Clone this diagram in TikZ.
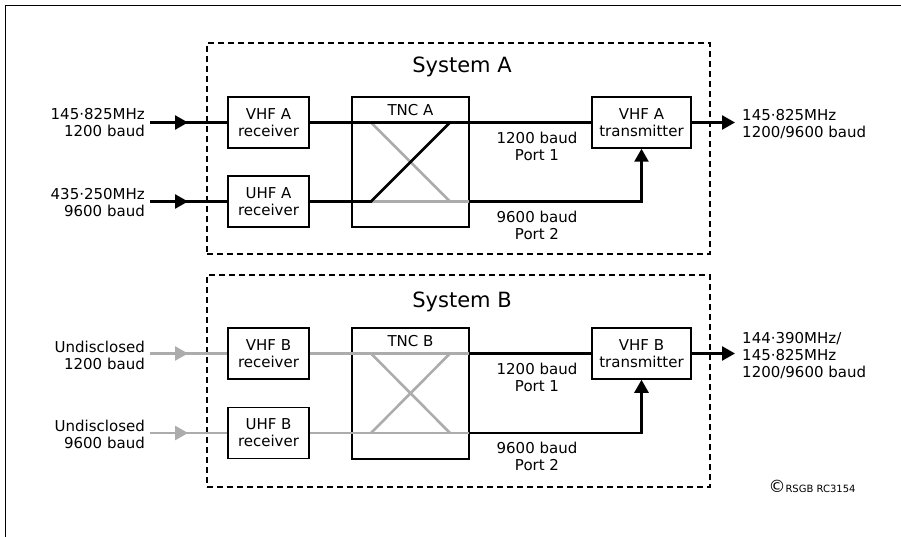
\documentclass[tikz,border=0pt]{standalone}
\usepackage{fontspec}
\setmainfont{DejaVu Sans}
\usetikzlibrary{arrows.meta}
\definecolor{siggray}{RGB}{172,172,172}
\begin{document}
\begin{tikzpicture}[x=1pt,y=-1pt,
  box/.style={draw=black,line width=1.5pt,fill=none,minimum height=51pt,inner sep=0pt,align=center,font=\fontsize{15}{17}\selectfont},
  rx/.style={box,minimum width=81pt},
  tx/.style={box,minimum width=99pt},
  tnc/.style={draw=black,line width=1.5pt,minimum width=117pt,inner sep=0pt},
  sysbox/.style={draw=black,line width=1.6pt,dash pattern=on 6pt off 4pt,minimum width=503pt,inner sep=0pt},
  sig/.style={line width=2.6pt,draw=black},
  gsig/.style={line width=2.6pt,draw=siggray},
  tip/.style={-{Triangle[length=13pt,width=14pt]}},
  lbl/.style={font=\fontsize{15}{17}\selectfont,inner sep=0pt,align=center},
  title/.style={font=\fontsize{21}{24}\selectfont,inner sep=0pt},
]
\useasboundingbox (0,0) rectangle (901,537);
% frame
\draw[line width=1.8pt] (5.5,537) -- (5.5,5.5) -- (901,5.5);

% ---------- System A ----------
\node[sysbox,minimum height=211pt] (sysA) at (458.5,148.5) {};
\node[title] (tA) at (462,67) {System A};
\node[rx] (vhfA) at (268.5,122.5) {VHF A\\receiver};
\node[rx] (uhfA) at (268.5,201.5) {UHF A\\receiver};
\node[tnc,minimum height=130pt] (tncA) at (410.5,162) {};
\node[lbl] (tncAl) at (410.5,110) {TNC A};
\node[tx] (txA) at (641.5,122.5) {VHF A\\transmitter};

\coordinate (a1) at (371,122.5);
\coordinate (a2) at (450,122.5);
\coordinate (a3) at (371,201.5);
\coordinate (a4) at (450,201.5);
\coordinate (a5) at (469,201.5);
\coordinate (inA1) at (150,122.5);
\coordinate (inA2) at (150,201.5);
\coordinate (tipA1) at (188,122.5);
\coordinate (tipA2) at (188,201.5);
\coordinate (outA) at (735,122.5);

\draw[gsig] (a1) -- (a4);
\draw[gsig] (a3) -- (a5);
\draw[sig] (vhfA.east) -- (txA.west);
\draw[sig] (uhfA.east) -- (a3) -- (a2);
\draw[sig,tip] (a5) -| (txA.south);
\draw[sig] (inA1) -- (vhfA.west);
\draw[sig,tip] (inA1) -- (tipA1);
\draw[sig] (inA2) -- (uhfA.west);
\draw[sig,tip] (inA2) -- (tipA2);
\draw[sig,tip] (txA.east) -- (outA);

\node[lbl,anchor=east,align=right] (lA1) at (145,123) {145·825MHz\\1200 baud};
\node[lbl,anchor=east,align=right] (lA2) at (145,203) {435·250MHz\\9600 baud};
\node[lbl] (pA1) at (537,146) {1200 baud\\Port 1};
\node[lbl] (pA2) at (537,225) {9600 baud\\Port 2};
\node[lbl,anchor=west,align=left] (oA) at (742,124) {145·825MHz\\1200/9600 baud};

% ---------- System B ----------
\node[sysbox,minimum height=212pt] (sysB) at (458.5,381) {};
\node[title] (tB) at (462,302) {System B};
\node[rx] (vhfB) at (268.5,353.5) {VHF B\\receiver};
\node[rx] (uhfB) at (268.5,433) {UHF B\\receiver};
\node[tnc,minimum height=131pt] (tncB) at (410.5,393.5) {};
\node[lbl] (tncBl) at (410.5,341) {TNC B};
\node[tx] (txB) at (641.5,353.5) {VHF B\\transmitter};

\coordinate (b1) at (371,353.5);
\coordinate (b2) at (450,353.5);
\coordinate (b3) at (371,433);
\coordinate (b4) at (450,433);
\coordinate (b5) at (469,433);
\coordinate (b6) at (469,353.5);
\coordinate (inB1) at (150,353.5);
\coordinate (inB2) at (150,433);
\coordinate (tipB1) at (188,353.5);
\coordinate (tipB2) at (188,433);
\coordinate (outB) at (735,353.5);

\draw[gsig] (b1) -- (b4);
\draw[gsig] (b3) -- (b2);
\draw[gsig] (vhfB.east) -- (b6);
\draw[gsig] (uhfB.east) -- (b5);
\draw[sig] (b6) -- (txB.west);
\draw[sig,tip] (b5) -| (txB.south);
\draw[gsig] (inB1) -- (vhfB.west);
\draw[gsig,tip] (inB1) -- (tipB1);
\draw[gsig] (inB2) -- (uhfB.west);
\draw[gsig,tip] (inB2) -- (tipB2);
\draw[sig,tip] (txB.east) -- (outB);

\node[lbl,anchor=east,align=right] (lB1) at (145,355) {Undisclosed\\1200 baud};
\node[lbl,anchor=east,align=right] (lB2) at (145,434) {Undisclosed\\9600 baud};
\node[lbl] (pB1) at (537,377) {1200 baud\\Port 1};
\node[lbl] (pB2) at (537,456) {9600 baud\\Port 2};
\node[lbl,anchor=west,align=left] (oB) at (742,356) {144·390MHz/\\145·825MHz\\1200/9600 baud};

\node[inner sep=0pt] (copy) at (812,486) {{\fontsize{17}{17}\selectfont ©}{\fontsize{10}{12}\selectfont RSGB RC3154}};
\end{tikzpicture}
\end{document}
